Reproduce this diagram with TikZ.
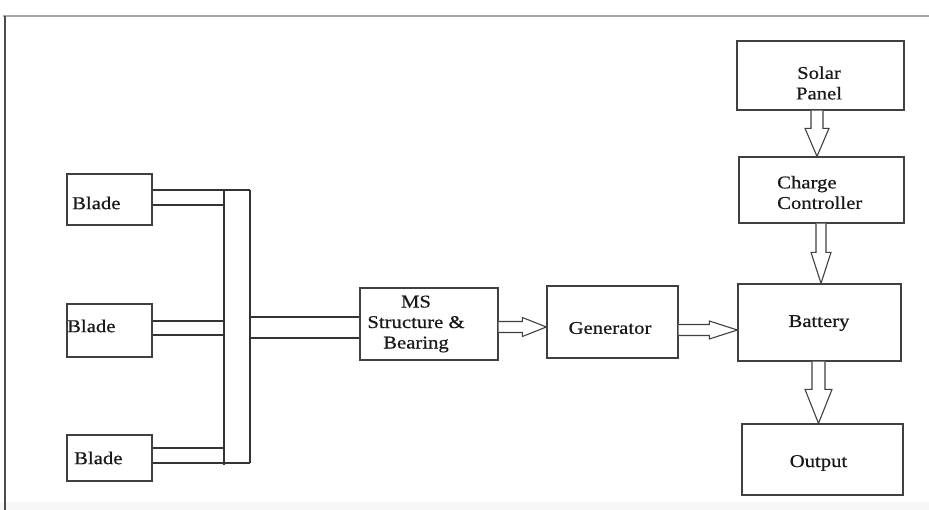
\documentclass[tikz,border=0pt]{standalone}
\usepackage{fontspec}
\setmainfont{Liberation Serif}[FakeStretch=1.15,FakeBold=0.6]
\usetikzlibrary{calc}
\tikzset{
  box/.style={draw=black!75, line width=1.3pt, fill=white, inner sep=0pt},
  lbl/.style={inner sep=0pt, text=black!90, font=\fontsize{18}{20.5}\selectfont},
  wire/.style={draw=black!80, line width=1.2pt},
  hollow/.style={draw=black!75, line width=1.1pt, fill=white, line join=miter},
}
\newcommand\myharrow[5]{%
  \draw[hollow] let \p1=(#1), \p2=(#2) in
    (\x1,\y2+#3pt) -- (\x2-#5pt,\y2+#3pt) -- (\x2-#5pt,\y2+#4pt) -- (\x2,\y2)
    -- (\x2-#5pt,\y2-#4pt) -- (\x2-#5pt,\y2-#3pt) -- (\x1,\y2-#3pt);}
\newcommand\myvarrow[5]{%
  \draw[hollow] let \p1=(#1), \p2=(#2) in
    (\x2+#3pt,\y1) -- (\x2+#3pt,\y2+#5pt) -- (\x2+#4pt,\y2+#5pt) -- (\x2,\y2)
    -- (\x2-#4pt,\y2+#5pt) -- (\x2-#3pt,\y2+#5pt) -- (\x2-#3pt,\y1);}
\begin{document}
\begin{tikzpicture}[x=1pt,y=-1pt]
\useasboundingbox (0,0) rectangle (929,510);
% page frame
\fill[gray!6] (0,502) rectangle (929,510);
\draw[gray!70, line width=2.4pt] (3,16) -- (929,16);
\draw[black!70, line width=1.2pt] (5,16) -- (5,510);

% boxes
\node[box, minimum width=167pt, minimum height=69pt] (sp) at (820.5,75.5) {};
\node[box, minimum width=165pt, minimum height=66pt] (cc) at (821.5,190) {};
\node[box, minimum width=163pt, minimum height=77pt] (bat) at (819.5,322.5) {};
\node[box, minimum width=161pt, minimum height=71pt] (out) at (822.5,459.5) {};
\node[box, minimum width=138pt, minimum height=72pt] (ms) at (429,324) {};
\node[box, minimum width=131pt, minimum height=72pt] (gen) at (612.5,322) {};
\node[box, minimum width=85pt, minimum height=51pt] (b1) at (109.5,199.5) {};
\node[box, minimum width=85pt, minimum height=53pt] (b2) at (109.5,330.5) {};
\node[box, minimum width=85pt, minimum height=46pt] (b3) at (109.5,458) {};

% labels
\node[lbl, align=center] (spt) at (819,83) {Solar\\Panel};
\node[lbl, align=left, anchor=west] (cct) at (777,192.5) {Charge\\Controller};
\node[lbl] (batt) at (819,323) {Battery};
\node[lbl] (outt) at (818.5,463) {Output};
\node[lbl] (gent) at (610,328) {Generator};
\node[lbl, align=center] (mst) at (416,324) {MS\\Structure \&\\Bearing};
\node[lbl, anchor=west] (b1t) at (72,203) {Blade};
\node[lbl, anchor=west] (b2t) at (67,326) {Blade};
\node[lbl, anchor=west] (b3t) at (74,458) {Blade};

% bus
\coordinate (busLtop) at (224,190);
\coordinate (busLbot) at (224,465);
\coordinate (busRtop) at (250,190);
\coordinate (busRbot) at (250,463);
\draw[wire] (busLtop) -- (busLbot);
\draw[wire] (busRtop) -- (busRbot);
% wire levels
\coordinate (ya) at (0,205);
\coordinate (yb) at (0,321);
\coordinate (yc) at (0,335);
\coordinate (yd) at (0,448);
\coordinate (ye) at (0,317);
\coordinate (yf) at (0,338);
% blade 1
\draw[wire] (b1.east |- busRtop) -- (busRtop);
\draw[wire] (b1.east |- ya) -- (busLtop |- ya);
% blade 2
\draw[wire] (b2.east |- yb) -- (busLtop |- yb);
\draw[wire] (b2.east |- yc) -- (busLtop |- yc);
% blade 3
\draw[wire] (b3.east |- yd) -- (busLtop |- yd);
\draw[wire] (b3.east |- busRbot) -- (busRbot);
% bus to MS
\draw[wire] (busRtop |- ye) -- (ms.west |- ye);
\draw[wire] (busRtop |- yf) -- (ms.west |- yf);

% hollow arrows
\myharrow{ms.east}{$(gen.west)+(0,5)$}{5.5}{9.5}{24}
\myharrow{gen.east}{$(bat.west)+(0,7.5)$}{5.5}{9}{28}
\myvarrow{sp.south}{$(cc.north)+(-4.5,0)$}{6}{12}{28}
\myvarrow{cc.south}{$(bat.north)+(1.5,0)$}{5}{10}{31}
\myvarrow{bat.south}{$(out.north)+(-4,0)$}{6.5}{13.5}{34}
\end{tikzpicture}
\end{document}
